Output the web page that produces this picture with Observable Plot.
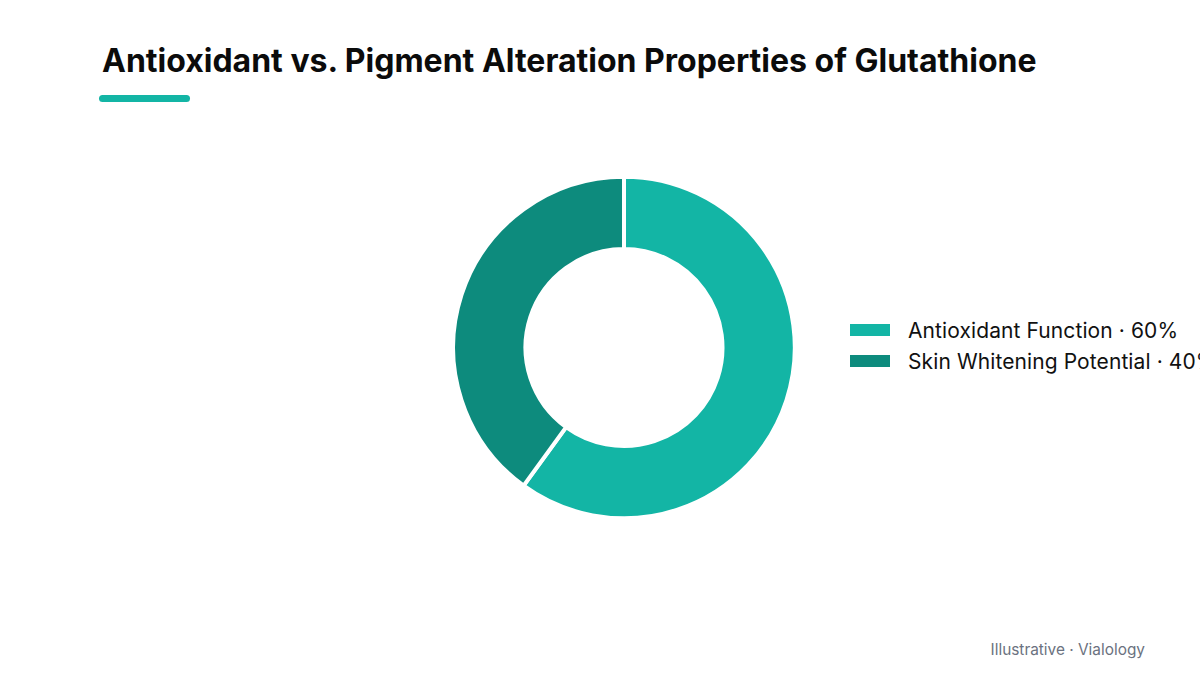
<!DOCTYPE html>
<html>
<head>
<meta charset="utf-8">
<script src="https://cdn.jsdelivr.net/npm/d3@7"></script>
<script src="https://cdn.jsdelivr.net/npm/@observablehq/plot@0.6"></script>
<style>
html,body{margin:0;padding:0;background:#fff;}
#page{position:relative;width:1200px;height:675px;overflow:hidden;background:#fff;font-family:Inter,"Noto Sans",sans-serif;}
#title{position:absolute;left:102px;top:41px;margin:0;font-size:32px;line-height:40px;font-weight:700;color:#0b0b0b;white-space:nowrap;}
#rule{position:absolute;left:99px;top:95px;width:91px;height:7px;border-radius:4px;background:#13b5a5;}
#chart{position:absolute;left:0;top:0;}
#legend{position:absolute;left:850px;top:315px;font-size:21px;letter-spacing:0.1px;color:#111;white-space:nowrap;}
.row{position:relative;height:31px;line-height:31px;padding-left:58px;}
.sw{position:absolute;left:0;top:9px;width:40px;height:12px;}
#note{position:absolute;right:55px;top:640px;font-size:15.4px;line-height:20px;color:#6b7280;white-space:nowrap;}
</style>
</head>
<body>
<div id="page">
<div id="chart"></div>
<h1 id="title"></h1>
<div id="rule"></div>
<div id="legend"></div>
<div id="note"></div>
</div>
<script>
const titleText = "Antioxidant vs. Pigment Alteration Properties of Glutathione";
const noteText = "Illustrative · Vialology";
const categories = ["Antioxidant Function", "Skin Whitening Potential"];
const shares = [60, 40];
const colors = ["#13b5a5", "#0d8b7d"];

const rows = categories.map((category, i) => ({category, share: shares[i]}));
const outerRadius = 170.8, innerRadius = 98.5;

function arcRender(index, scales, values, dimensions) {
  const g = d3.create("svg:g");
  const cx = 624, cy = 347.5;
  const arc = d3.arc().innerRadius(innerRadius).outerRadius(outerRadius);
  for (const i of index) {
    g.append("path")
      .attr("transform", `translate(${cx},${cy})`)
      .attr("d", arc({startAngle: values.x1[i], endAngle: values.x2[i]}))
      .attr("fill", values.fill[i])
      .attr("stroke", "#fff")
      .attr("stroke-width", 4);
  }
  return g.node();
}

const plot = Plot.plot({
  width: 1200,
  height: 675,
  margin: 0,
  style: {background: "transparent"},
  x: {domain: [0, 100], range: [0, 2 * Math.PI], axis: null},
  color: {domain: categories, range: colors},
  marks: [
    Plot.barX(rows, Plot.stackX({x: "share", fill: "category", order: null, render: arcRender, title: d => `${d.category} · ${d.share}%`}))
  ]
});
document.getElementById("chart").append(plot);

document.getElementById("title").textContent = titleText;
document.getElementById("note").textContent = noteText;
const legend = document.getElementById("legend");
rows.forEach((d, i) => {
  const row = document.createElement("div");
  row.className = "row";
  const sw = document.createElement("span");
  sw.className = "sw";
  sw.style.background = colors[i];
  row.append(sw, `${d.category} · ${d.share}%`);
  legend.append(row);
});
</script>
</body>
</html>
